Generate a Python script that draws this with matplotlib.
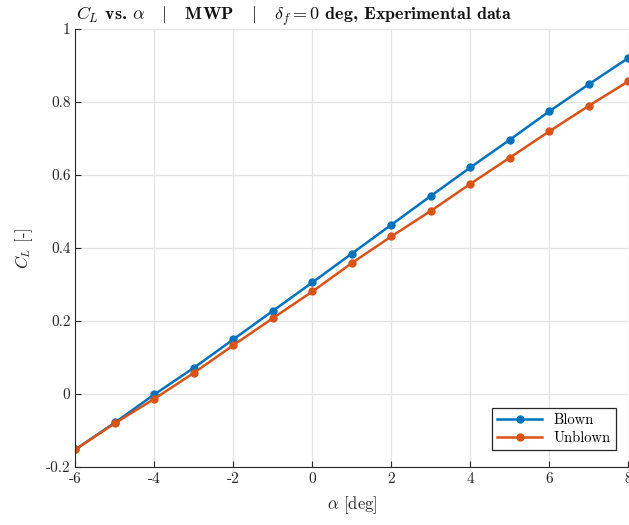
import numpy as np
import matplotlib
matplotlib.use('Agg')
import matplotlib.pyplot as plt

# data
alpha = [-6, -5, -4, -3, -2, -1, 0, 1, 2, 3, 4, 5, 6, 7, 8]
cl_blown = [-0.152, -0.078, -0.001, 0.072, 0.150, 0.228, 0.306, 0.385, 0.464,
            0.543, 0.621, 0.697, 0.775, 0.849, 0.921]
cl_unblown = [-0.152, -0.080, -0.013, 0.058, 0.134, 0.208, 0.281, 0.359, 0.432,
              0.502, 0.576, 0.648, 0.720, 0.790, 0.857]
xticks = [-6, -4, -2, 0, 2, 4, 6, 8]
yticks = [-0.2, 0, 0.2, 0.4, 0.6, 0.8, 1]
ytick_labels = ['-0.2', '0', '0.2', '0.4', '0.6', '0.8', '1']

plt.rcParams['font.family'] = 'cmr10'
plt.rcParams['mathtext.fontset'] = 'cm'
plt.rcParams['axes.unicode_minus'] = False

fig = plt.figure(figsize=(6.29, 5.25), dpi=100)
ax = fig.add_axes([0.12, 0.1105, 0.879, 0.834])

ax.plot(alpha, cl_blown, '-o', color='#0072BD', lw=1.8, ms=5, label='Blown')
ax.plot(alpha, cl_unblown, '-o', color='#D95319', lw=1.8, ms=5, label='Unblown')

ax.set_xlim(-6, 8)
ax.set_ylim(-0.2, 1)
ax.set_xticks(xticks)
ax.set_xticklabels([str(t) for t in xticks])
ax.set_yticks(yticks)
ax.set_yticklabels(ytick_labels)
ax.tick_params(direction='in', labelsize=11, colors='#262626', length=4)
ax.grid(True, color='#e3e3e3', lw=0.9)
ax.set_axisbelow(True)
for s in ['top', 'right']:
    ax.spines[s].set_visible(False)
for s in ['left', 'bottom']:
    ax.spines[s].set_color('#262626')

ax.set_xlabel(r'$\alpha$ [deg]', fontsize=12, color='#262626', labelpad=6)
ax.set_ylabel(r'$C_L$ [-]', fontsize=12, color='#262626', labelpad=8)

ax.text(0.395, 1.021,
        r'$C_L$ vs. $\alpha$   $|$   MWP   $|$   $\delta_f = 0$ deg, Experimental data',
        transform=ax.transAxes, ha='center', va='baseline', fontsize=13,
        family='cmb10', color='#111111')

leg = ax.legend(loc='lower right', fontsize=10.5, fancybox=False, framealpha=1,
                edgecolor='#262626', borderpad=0.35, handlelength=3.1,
                labelspacing=0.3, bbox_to_anchor=(0.991, 0.022))
leg.get_frame().set_linewidth(0.9)

fig.savefig('out.png', dpi=100)
